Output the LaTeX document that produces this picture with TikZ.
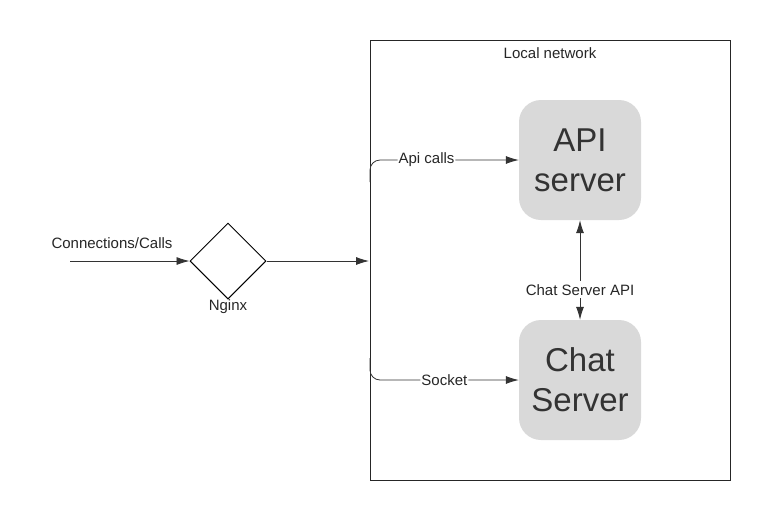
\documentclass[tikz,border=0pt]{standalone}
\usepackage{fontspec}
\setmainfont{Liberation Sans}
\usetikzlibrary{shapes.geometric,arrows.meta}
\begin{document}
\begin{tikzpicture}[x=1pt,y=-1pt,
  line/.style={draw=black!80,line width=0.8pt},
  tip/.style={Latex[length=13pt,width=8pt]},
  arr/.style={line,-{Latex[length=13pt,width=8pt]}},
  srv/.style={fill=black!15,rounded corners=22pt,minimum width=122pt,minimum height=120pt,align=center,font=\fontsize{33}{40}\selectfont,text=black!80},
  txt/.style={font=\fontsize{15}{18}\selectfont,text=black!85},
  lbl/.style={txt,fill=white,inner sep=1pt}]
\useasboundingbox (0,0) rectangle (770,520);
\node[draw=black!85,line width=1pt,minimum width=360pt,minimum height=440pt,inner sep=0pt] (net) at (550,260) {};
\node[txt] (netl) at (550,53) {Local network};
\node[srv] (api) at (580,160) {API\\server};
\node[srv] (chat) at (580,380) {Chat\\Server};
\node[diamond,draw=black,line width=1pt,minimum width=76pt,minimum height=76pt,inner sep=0pt,fill=white] (ng) at (228,261) {};
\node[txt] (ngl) at (228,307) {Nginx};
\coordinate (in) at (70,261);
\node[txt] (cl) at (112,243) {Connections/Calls};
\coordinate (b1) at (370,182);
\coordinate (b2) at (370,358);
\coordinate (nw) at (369,261);
\draw[arr] (in) -- (ng.west);
\draw[arr] (ng.east) -- (nw);
\draw[arr,rounded corners=10pt] (b1) -- (370,160) -- node[lbl,pos=0.38]{Api calls} (api.west|-0,160);
\draw[arr,rounded corners=10pt] (b2) -- (370,380) -- node[lbl,pos=0.5]{Socket} (chat.west|-0,380);
\draw[line,{Latex[length=13pt,width=8pt]}-{Latex[length=13pt,width=8pt]}] (api.south) -- node[lbl,inner sep=3pt,pos=0.7]{Chat Server API} (chat.north);
\end{tikzpicture}
\end{document}
